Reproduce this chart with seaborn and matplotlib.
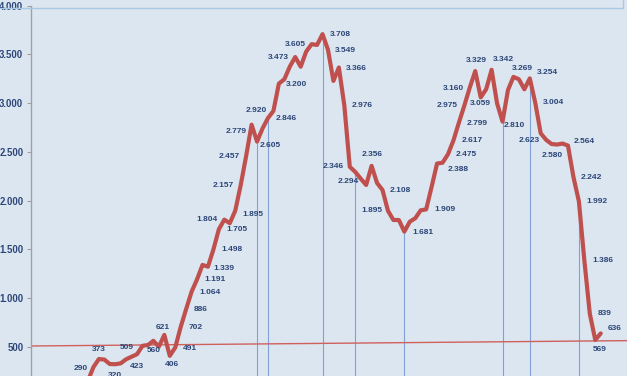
import matplotlib
matplotlib.use("Agg")
import matplotlib.pyplot as plt
from matplotlib.lines import Line2D
import numpy as np
import pandas as pd
import seaborn as sns

# series values, one per period (the first one sits below the visible area)
values = [
    150, 290, 373, 368, 322, 320, 329, 371, 397, 423,
    509, 517, 560, 500, 621, 406, 491, 702, 886, 1064,
    1191, 1339, 1321, 1498, 1705, 1804, 1767, 1895, 2157, 2457,
    2779, 2605, 2740, 2846, 2920, 3200, 3245, 3374, 3473, 3374,
    3528, 3605, 3597, 3708, 3549, 3228, 3366, 2976, 2346, 2294,
    2225, 2160, 2356, 2180, 2108, 1895, 1800, 1800, 1681, 1783,
    1818, 1900, 1909, 2140, 2380, 2388, 2475, 2617, 2799, 2975,
    3160, 3329, 3059, 3142, 3342, 2998, 2810, 3135, 3269, 3245,
    3142, 3254, 3004, 2690, 2623, 2580, 2575, 2585, 2564, 2242,
    1992, 1386, 839, 569, 636,
]
# positions that carry a data label
label_points = [
    1, 2, 5, 9, 10, 12, 14, 15, 16, 17, 18, 19, 20, 21, 23, 24, 25, 27,
    28, 29, 30, 31, 33, 34, 35, 38, 41, 43, 44, 46, 47, 48, 49, 52, 54,
    55, 58, 62, 65, 66, 67, 68, 69, 70, 71, 72, 74, 76, 78, 81, 82, 84,
    85, 88, 89, 90, 91, 92, 93, 94,
]
# positions with a vertical drop line
drop_points = [31, 33, 43, 49, 58, 76, 81, 90]
# straight red reference line: value at left and right edge
ref_line = [507, 562]
y_ticks = [500, 1000, 1500, 2000, 2500, 3000, 3500, 4000]

# label offsets in pixels (dx, dy with y downwards), one per label
label_offsets = [
    (-13, 1), (0, -10), (0, 11), (0, 12), (-16, 1.5), (0.5, 10), (-2, -7.5),
    (2.5, 9), (15, 0.7), (15, 0.7), (14.6, 0), (18.4, 0.5), (18, 0.6),
    (21.8, 4), (18.3, 0.5), (17.8, 0), (-17, 0.3), (17.5, 3.8), (-17.4, 0.4),
    (-16.8, 0), (-15, 7), (13, 4), (18, 0.4), (-16.7, 0), (17.8, 0.4),
    (-17, 0.3), (-16.6, 0), (17.5, 0), (17.7, 0.4), (17.8, 0.8), (18, 0.5),
    (-16.5, 0), (-7, 10), (0.7, -11), (18, 0.7), (-16.3, 0.2), (18.4, 0.7),
    (19, 0), (16, 7), (18, 0.7), (18.3, 0), (18.4, 0.6), (-17, 0.4),
    (-16.5, 0.8), (0.8, -11), (0, 6), (11.7, -10.8), (11.5, 4), (9.3, -8.6),
    (18, -5.7), (18, 0), (-16.8, 0.8), (1, 11), (16, -4.3), (18.3, 0.4),
    (18.4, 0.4), (18.4, 0.6), (15, 0.3), (4, 10), (14.3, -4.5),
]

BG = "#DCE6F1"
RED = "#C0504D"
TXT = "#2C4677"


def fmt(v):
    return f"{v:,}".replace(",", ".")


sns.set_style("white", {"axes.facecolor": BG, "figure.facecolor": BG})
plt.rcParams["font.family"] = ["Liberation Sans", "DejaVu Sans"]

fig = plt.figure(figsize=(6.27, 3.76), dpi=100)
ax = fig.add_axes([31 / 627, 0, 596 / 627, 1])

df = pd.DataFrame({"t": np.arange(len(values)), "value": values})

xlim = (-10.44, 98.82)
ylim = (199, 4058.5)

# drop lines from selected points down to the floor
ax.vlines(drop_points, 0, [values[i] for i in drop_points],
          color="#7FA1D6", linewidth=0.8, zorder=1)

# reference line across the whole plot
ax.plot(xlim, ref_line, color="#D0605C", linewidth=1.0, zorder=2)

sns.lineplot(data=df, x="t", y="value", ax=ax, color=RED, linewidth=3.0,
             zorder=3, solid_joinstyle="round", solid_capstyle="round")

for i, (dx, dy) in zip(label_points, label_offsets):
    ax.annotate(fmt(values[i]), (i, values[i]), xytext=(dx, -dy),
                textcoords="offset pixels", ha="center", va="center",
                fontsize=6.0, fontweight="bold", color=TXT, zorder=4)

ax.set_xlim(*xlim)
ax.set_ylim(*ylim)
ax.set_yticks(y_ticks)
ax.set_yticklabels([fmt(v) for v in y_ticks])
ax.set_xticks([])
ax.set_xlabel("")
ax.set_ylabel("")
ax.tick_params(axis="y", length=3, width=0.8, color="#A0A0A0", pad=2.5,
               labelsize=6.9, labelcolor=TXT, left=True)
for lab in ax.get_yticklabels():
    lab.set_fontweight("bold")
for side in ["top", "right", "bottom"]:
    ax.spines[side].set_visible(False)
ax.spines["left"].set_color("#A0A0A0")
ax.spines["left"].set_linewidth(1.0)
ax.spines["left"].set_bounds(ylim[0], 4000)

# thin light-blue frame line at the top of the chart area
fig.add_artist(Line2D([0, 623 / 627], [1 - 8.3 / 376] * 2,
                      transform=fig.transFigure, color="#A9C8E3", linewidth=1.0))
fig.add_artist(Line2D([623 / 627] * 2, [1 - 8.3 / 376, 1],
                      transform=fig.transFigure, color="#A9C8E3", linewidth=1.0))

fig.savefig("out.png", dpi=100, facecolor=BG)
